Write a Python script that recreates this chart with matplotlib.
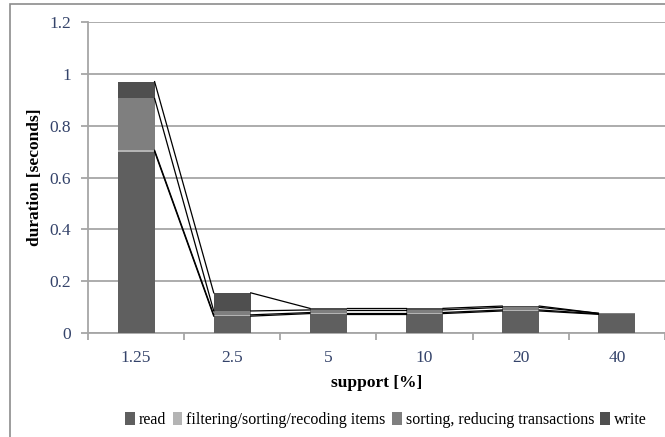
import matplotlib
matplotlib.use("Agg")
import matplotlib.pyplot as plt
from matplotlib.patches import Rectangle, Patch
import numpy as np

plt.rcParams['font.family'] = ['Liberation Serif', 'DejaVu Serif']

supports = ['1.25', '2.5', '5', '10', '20', '40']
series_names = ['read', 'filtering/sorting/recoding items',
                'sorting, reducing transactions', 'write']
read = [0.70, 0.065, 0.075, 0.075, 0.085, 0.072]
filtering = [0.005, 0.005, 0.004, 0.004, 0.004, 0.002]
sorting = [0.20, 0.015, 0.010, 0.010, 0.010, 0.002]
write = [0.065, 0.070, 0.006, 0.006, 0.005, 0.0]
yticks = [0, 0.2, 0.4, 0.6, 0.8, 1, 1.2]

colors = ['#5f5f5f', '#b4b4b4', '#7f7f7f', '#4f4f4f']
grid_col = '#a6a6a6'
tick_col = '#34436a'

fig = plt.figure(figsize=(6.65, 4.37), dpi=100)
# chart border
fig.patches.append(Rectangle((10 / 665, -0.1), 1.2, 1 - 4 / 437 + 0.1,
                             transform=fig.transFigure, fill=False,
                             edgecolor='#8c8c8c', linewidth=1.2))
ax = fig.add_axes([88 / 665, 1 - 333 / 437, 1 - 88 / 665, (333 - 22) / 437])

x = np.arange(len(supports))
w = 0.385
bottom = np.zeros(len(supports))
tops = []
for vals, c in zip([read, filtering, sorting, write], colors):
    vals = np.array(vals)
    ax.bar(x, vals, w, bottom=bottom, color=c, edgecolor='none', zorder=3)
    bottom = bottom + vals
    tops.append(bottom.copy())

# series lines between neighbouring bars
for t in tops:
    for i in range(len(x) - 1):
        ax.plot([x[i] + w / 2, x[i + 1] - w / 2], [t[i], t[i + 1]],
                color='black', lw=0.9, zorder=4)

ax.set_xlim(-0.5, len(x) - 0.5)
ax.set_ylim(0, 1.2)
ax.set_yticks(yticks)
ax.set_yticklabels(['0', '0.2', '0.4', '0.6', '0.8', '1', '1.2'])
ax.yaxis.grid(True, color=grid_col, lw=1.3, zorder=0)
ax.set_axisbelow(True)
ax.tick_params(axis='y', length=5, color=grid_col, width=1.3,
               labelsize=12.5, labelcolor=tick_col, pad=7)
ax.set_xticks(x)
ax.set_xticklabels(supports)
ax.set_xticks(np.arange(len(x) + 1) - 0.5, minor=True)
ax.tick_params(axis='x', which='major', length=0, labelsize=12.5,
               labelcolor=tick_col, pad=12)
ax.tick_params(axis='x', which='minor', length=5, color=grid_col, width=1.3)
for s in ['top', 'right']:
    ax.spines[s].set_visible(False)
for s in ['left', 'bottom']:
    ax.spines[s].set_color(grid_col)
    ax.spines[s].set_linewidth(1.3)

fig.text(35 / 665, 1 - 177 / 437, 'duration [seconds]', fontweight='bold',
         fontsize=12.5, rotation=90, ha='center', va='center')
fig.text((88 + 665) / 2 / 665, 1 - 383 / 437, 'support [%]', fontweight='bold',
         fontsize=12.5, ha='center', va='center')

handles = [Patch(facecolor=c, edgecolor='none') for c in colors]
fig.legend(handles, series_names, loc='center', ncol=4,
           bbox_to_anchor=(386 / 665, 1 - 420 / 437), frameon=False,
           fontsize=11.5, handlelength=0.6, handleheight=0.8, handletextpad=0.25,
           columnspacing=0.4, borderpad=0)

fig.savefig('out.png', dpi=100)
